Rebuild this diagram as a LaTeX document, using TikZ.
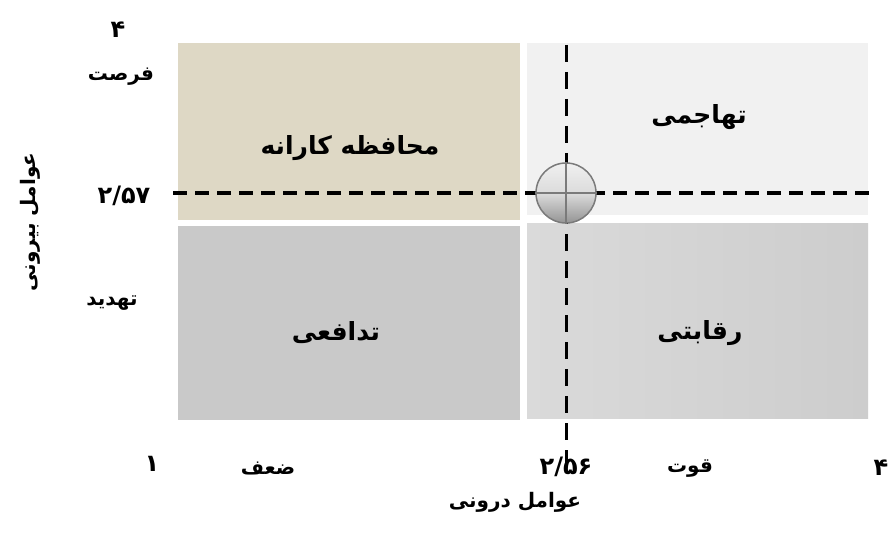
\documentclass[tikz,border=0pt]{standalone}
\usepackage{fontspec}
\newfontfamily\fa[Script=Arabic]{DejaVu Sans}
\TeXXeTstate=1
\definecolor{tanq}{HTML}{DED8C5}
\definecolor{grayq}{HTML}{C9C9C9}
\definecolor{lightq}{HTML}{F1F1F1}
\definecolor{midq}{HTML}{DADADA}
\definecolor{crossc}{HTML}{7A7A7A}
\begin{document}
\begin{tikzpicture}[x=1pt,y=-1pt,
  quad/.style={inner sep=0pt, outer sep=0pt, anchor=north west},
  qlabel/.style={font=\fa\bfseries\fontsize{25}{30}\selectfont, inner sep=1pt},
  alabel/.style={font=\fa\bfseries\fontsize{20}{24}\selectfont, inner sep=1pt},
  nlabel/.style={font=\fa\bfseries\fontsize{24}{28}\selectfont, inner sep=1pt},
  dashline/.style={line width=3.5pt, dash pattern=on 14pt off 8pt},
  vdashline/.style={line width=3pt, dash pattern=on 17pt off 10pt}]
\useasboundingbox (0,0) rectangle (896,540);
\fill[white] (0,0) rectangle (896,540);
% quadrants
\node[quad, fill=tanq, minimum width=342pt, minimum height=177pt] (tl) at (178,43) {};
\node[quad, fill=grayq, minimum width=342pt, minimum height=194pt] (bl) at (178,226) {};
\node[quad, fill=lightq, minimum width=341pt, minimum height=172pt] (tr) at (527,43) {};
\node[quad, left color=midq, right color=midq!94!black, minimum width=341pt, minimum height=195pt] (br) at (527,223) {};
% quadrant labels
\node[qlabel] (mk) at (350,148) {\beginR محافظه کارانه\endR};
\node[qlabel] (th) at (699,117) {\beginR تهاجمی\endR};
\node[qlabel] (rq) at (700,333) {\beginR رقابتی\endR};
\node[qlabel] (td) at (336,333) {\beginR تدافعی\endR};
% dashed axes
\coordinate (hl) at (173,193);
\coordinate (hr) at (872,193);
\coordinate (vt) at (566,45);
\coordinate (vb) at (566,474);
\draw[dashline] (hl) -- (hr);
\draw[vdashline] (vt) -- (vb);
% centre marker
\node[circle, draw=crossc, line width=1.5pt, minimum size=60pt, inner sep=0pt,
      top color=white!94!black, bottom color=black!42, middle color=white!86!black] (ctr) at (566,193) {};
\draw[crossc, line width=2pt] (ctr.west) -- (ctr.east);
\draw[crossc, line width=2pt] (ctr.north) -- (ctr.south);
% vertical axis labels
\node[nlabel] (y4) at (118,30) {۴};
\node[alabel] (fr) at (121,77) {\beginR فرصت\endR};
\node[nlabel] (y257) at (124,196) {۲/۵۷};
\node[alabel] (tah) at (112,303) {\beginR تهدید\endR};
\node[alabel, rotate=90] (ext) at (30,222) {\beginR عوامل بیرونی\endR};
% horizontal axis labels
\node[nlabel] (x1) at (152,464) {۱};
\node[alabel] (zf) at (268,469) {\beginR ضعف\endR};
\node[nlabel] (x256) at (566,467) {۲/۵۶};
\node[alabel] (qv) at (690,469) {\beginR قوت\endR};
\node[nlabel] (x4) at (881,468) {۴};
\node[alabel] (int) at (515,502) {\beginR عوامل درونی\endR};
\end{tikzpicture}
\end{document}
